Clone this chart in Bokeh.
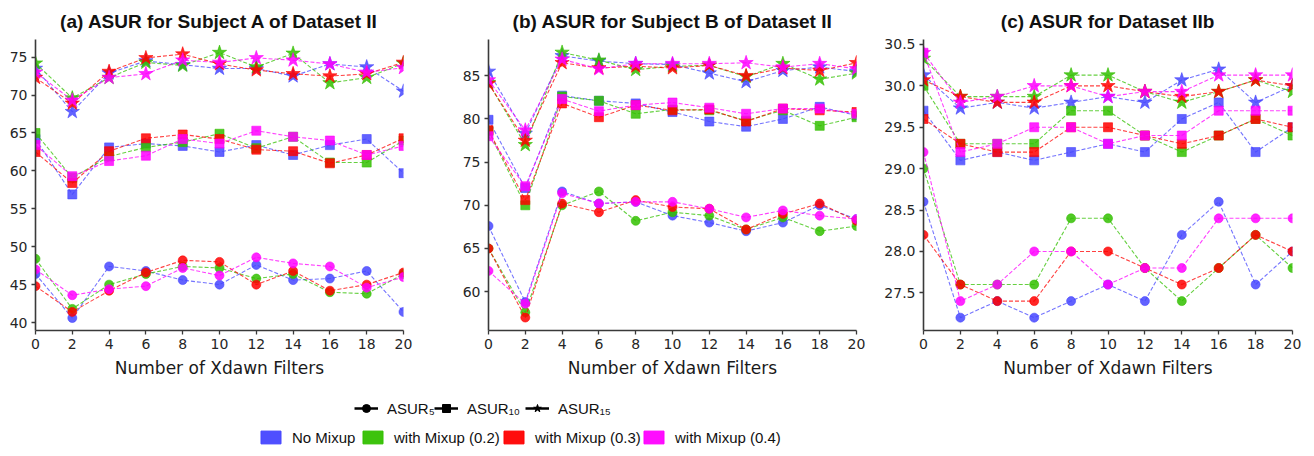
from bokeh.plotting import figure
from bokeh.models import Range1d, FixedTicker, Legend, LegendItem, NumeralTickFormatter
from bokeh.layouts import column, row
from bokeh.embed import file_html
from bokeh.resources import INLINE

# ---------------- data ----------------
x_filters = [0, 2, 4, 6, 8, 10, 12, 14, 16, 18, 20]
mixup_labels = ["No Mixup", "with Mixup (0.2)", "with Mixup (0.3)", "with Mixup (0.4)"]
metric_labels = ["ASUR\u2085", "ASUR\u2081\u2080", "ASUR\u2081\u2085"]
x_ticks = [0, 2, 4, 6, 8, 10, 12, 14, 16, 18, 20]

# (a) Subject A of Dataset II
a5_none = [46.4, 40.6, 47.4, 46.8, 45.6, 45.0, 47.6, 45.6, 45.8, 46.8, 41.4]
a5_m02 = [48.4, 41.8, 45.0, 46.4, 47.4, 47.2, 45.8, 46.4, 44.0, 43.8, 46.4]
a5_m03 = [44.8, 41.4, 44.2, 46.6, 48.2, 48.0, 45.0, 46.8, 44.2, 45.0, 46.6]
a5_m04 = [47.0, 43.6, 44.4, 44.8, 47.2, 46.2, 48.6, 47.8, 47.4, 44.6, 46.0]
a10_none = [64.2, 56.9, 63.1, 63.6, 63.3, 62.5, 63.4, 62.1, 63.4, 64.2, 59.7]
a10_m02 = [65.0, 59.1, 61.9, 63.1, 63.8, 64.9, 63.0, 64.5, 61.1, 61.1, 64.0]
a10_m03 = [62.5, 58.4, 62.6, 64.3, 64.8, 64.2, 62.8, 62.6, 61.0, 62.1, 64.3]
a10_m04 = [63.4, 59.3, 61.3, 62.0, 64.2, 63.6, 65.3, 64.5, 64.0, 62.1, 63.3]
a15_none = [73.5, 67.8, 72.9, 74.5, 74.0, 73.5, 73.5, 72.5, 74.1, 73.7, 70.5]
a15_m02 = [74.2, 69.6, 72.3, 74.3, 73.9, 75.6, 73.7, 75.5, 71.6, 72.3, 74.2]
a15_m03 = [72.3, 68.9, 73.1, 74.9, 75.4, 74.1, 73.3, 72.8, 72.5, 72.8, 74.3]
a15_m04 = [73.0, 69.3, 72.3, 72.8, 74.6, 74.3, 74.9, 74.6, 74.1, 73.0, 73.6]
a_yticks = [40, 45, 50, 55, 60, 65, 70, 75]

# (b) Subject B of Dataset II
b5_none = [67.6, 58.8, 71.6, 70.2, 70.4, 68.8, 68.0, 67.0, 68.0, 70.0, 68.4]
b5_m02 = [65.0, 57.6, 70.0, 71.6, 68.2, 69.2, 68.8, 67.2, 68.6, 67.0, 67.6]
b5_m03 = [65.0, 57.0, 70.2, 69.2, 70.6, 69.8, 69.6, 67.2, 69.0, 70.2, 68.2]
b5_m04 = [62.4, 58.6, 71.4, 70.2, 70.4, 70.4, 69.6, 68.6, 69.4, 68.8, 68.4]
b10_none = [79.9, 72.0, 82.7, 82.1, 81.8, 80.8, 79.7, 79.1, 80.0, 81.4, 80.4]
b10_m02 = [78.6, 70.0, 82.6, 82.1, 80.6, 81.1, 81.0, 79.8, 81.0, 79.2, 80.2]
b10_m03 = [78.7, 70.6, 81.8, 80.2, 81.6, 81.0, 81.1, 79.7, 81.2, 81.0, 80.8]
b10_m04 = [78.0, 72.2, 82.3, 80.9, 81.6, 81.9, 81.3, 80.6, 81.2, 81.2, 80.6]
b15_none = [85.5, 78.3, 87.3, 86.7, 86.4, 86.3, 85.3, 84.3, 85.6, 86.0, 85.5]
b15_m02 = [84.2, 77.0, 87.7, 86.8, 85.7, 86.1, 86.2, 84.9, 86.4, 84.6, 85.3]
b15_m03 = [84.1, 77.5, 86.5, 85.9, 86.1, 85.9, 86.2, 85.0, 85.9, 85.6, 86.5]
b15_m04 = [84.5, 78.7, 86.9, 85.8, 86.4, 86.4, 86.4, 86.5, 86.0, 86.4, 85.8]
b_yticks = [60, 65, 70, 75, 80, 85]

# (c) Dataset IIb
c5_none = [28.6, 27.2, 27.4, 27.2, 27.4, 27.6, 27.4, 28.2, 28.6, 27.6, 28.0]
c5_m02 = [29.0, 27.6, 27.6, 27.6, 28.4, 28.4, 27.8, 27.4, 27.8, 28.2, 27.8]
c5_m03 = [28.2, 27.6, 27.4, 27.4, 28.0, 28.0, 27.8, 27.6, 27.8, 28.2, 28.0]
c5_m04 = [29.2, 27.4, 27.6, 28.0, 28.0, 27.6, 27.8, 27.8, 28.4, 28.4, 28.4]
c10_none = [29.7, 29.1, 29.2, 29.1, 29.2, 29.3, 29.2, 29.6, 29.8, 29.2, 29.5]
c10_m02 = [30.0, 29.3, 29.3, 29.3, 29.7, 29.7, 29.4, 29.2, 29.4, 29.6, 29.4]
c10_m03 = [29.6, 29.3, 29.2, 29.2, 29.5, 29.5, 29.4, 29.3, 29.4, 29.6, 29.5]
c10_m04 = [30.4, 29.2, 29.3, 29.5, 29.5, 29.3, 29.4, 29.4, 29.7, 29.7, 29.7]
c15_none = [30.13, 29.73, 29.8, 29.73, 29.8, 29.87, 29.8, 30.07, 30.2, 29.8, 30.0]
c15_m02 = [30.33, 29.87, 29.87, 29.87, 30.13, 30.13, 29.93, 29.8, 29.93, 30.07, 29.93]
c15_m03 = [30.07, 29.87, 29.8, 29.8, 30.0, 30.0, 29.93, 29.87, 29.93, 30.07, 30.0]
c15_m04 = [30.4, 29.8, 29.87, 30.0, 30.0, 29.87, 29.93, 29.93, 30.13, 30.13, 30.13]
c_yticks = [27.5, 28.0, 28.5, 29.0, 29.5, 30.0, 30.5]

# ---------------- style ----------------
COLORS = ["#4646ff", "#33c000", "#ff0000", "#ff00ff"]
MARKERS = ["circle", "square", "star"]
MSIZES = [9, 9, 15]
AXIS_COLOR = "#3a3a3a"
TICK_FONT = "DejaVu Sans"
LEGEND_FONT = "Liberation Sans"


def make_panel(title, s5, s10, s15, yr, yticks, fmt, width, left, right):
    p = figure(width=width, height=390, x_range=Range1d(0, 20), y_range=Range1d(*yr),
               output_backend="svg", toolbar_location=None,
               min_border_left=left, min_border_right=right,
               min_border_top=38, min_border_bottom=60)
    p.outline_line_color = None
    p.grid.visible = False
    p.background_fill_color = "white"
    p.border_fill_color = "white"
    p.title.text = title
    p.title.align = "center"
    p.title.text_font = "Liberation Sans"
    p.title.text_font_style = "bold"
    p.title.text_font_size = "19px"
    p.title.text_color = "#111111"
    p.title.standoff = 16
    for ax in (p.xaxis[0], p.yaxis[0]):
        ax.axis_line_color = AXIS_COLOR
        ax.axis_line_width = 1.6
        ax.major_tick_line_color = AXIS_COLOR
        ax.major_tick_line_width = 1.3
        ax.major_tick_out = 4
        ax.major_tick_in = 0
        ax.minor_tick_line_color = None
        ax.major_label_text_font = TICK_FONT
        ax.major_label_text_font_size = "14px"
        ax.major_label_text_color = "#262626"
        ax.major_label_standoff = 4
    p.xaxis.ticker = FixedTicker(ticks=x_ticks)
    p.yaxis.ticker = FixedTicker(ticks=yticks)
    if fmt:
        p.yaxis.formatter = NumeralTickFormatter(format=fmt)
    p.xaxis.axis_label = "Number of Xdawn Filters"
    p.xaxis.axis_label_text_font = TICK_FONT
    p.xaxis.axis_label_text_font_style = "normal"
    p.xaxis.axis_label_text_font_size = "17px"
    p.xaxis.axis_label_text_color = "#1a1a1a"
    p.xaxis.axis_label_standoff = 6

    for ci, color in enumerate(COLORS):
        for mi, series in enumerate((s5, s10, s15)):
            ys = series[ci]
            p.line(x_filters, ys, line_color=color, line_width=1.1,
                   line_dash="4 2", line_alpha=0.75)
            p.scatter(x_filters, ys, marker=MARKERS[mi], size=MSIZES[mi],
                      fill_color=color, line_color=color, fill_alpha=0.85,
                      line_alpha=0.6, line_width=1)
    return p


pa = make_panel("(a) ASUR for Subject A of Dataset II",
                [a5_none, a5_m02, a5_m03, a5_m04],
                [a10_none, a10_m02, a10_m03, a10_m04],
                [a15_none, a15_m02, a15_m03, a15_m04],
                (38.95, 77.33), a_yticks, None, 440, 35, 37)
pb = make_panel("(b) ASUR for Subject B of Dataset II",
                [b5_none, b5_m02, b5_m03, b5_m04],
                [b10_none, b10_m02, b10_m03, b10_m04],
                [b15_none, b15_m02, b15_m03, b15_m04],
                (55.5, 89.2), b_yticks, None, 440, 48, 24)
pc = make_panel("(c) ASUR for Dataset IIb",
                [c5_none, c5_m02, c5_m03, c5_m04],
                [c10_none, c10_m02, c10_m03, c10_m04],
                [c15_none, c15_m02, c15_m03, c15_m04],
                (27.045, 30.56), c_yticks, "0.0", 434, 43, 22)

# ---------------- legend strip ----------------
lg = figure(width=1314, height=66, output_backend="svg", toolbar_location=None,
            x_range=Range1d(0, 1), y_range=Range1d(0, 1),
            x_axis_location=None, y_axis_location=None,
            min_border_left=0, min_border_right=0, min_border_top=0, min_border_bottom=0)
lg.outline_line_color = None
lg.grid.visible = False

# off-range dummy points so that legend glyphs get drawn
OFF = [-10.0]
metric_x = [354, 434, 525]
for mi, lab in enumerate(metric_labels):
    rl = lg.line(x=OFF, y=OFF, line_color="black", line_width=2.5)
    rs = lg.scatter(x=OFF, y=OFF, marker=MARKERS[mi], size=[10, 10, 17][mi],
                    fill_color="black", line_color="black")
    leg = Legend(items=[LegendItem(label=lab, renderers=[rl, rs])],
                 location=(metric_x[mi], 38), orientation="horizontal",
                 glyph_width=24, glyph_height=20, label_height=20,
                 label_standoff=9, padding=0, margin=0,
                 border_line_color=None, background_fill_alpha=0,
                 label_text_font=LEGEND_FONT, label_text_font_size="15px",
                 label_text_color="#111111")
    lg.add_layout(leg)

color_x = [258, 360, 501, 641]
for ci, lab in enumerate(mixup_labels):
    rq = lg.quad(left=OFF, right=OFF, top=OFF, bottom=OFF, fill_color=COLORS[ci],
                 line_color=COLORS[ci], fill_alpha=0.95)
    leg = Legend(items=[LegendItem(label=lab, renderers=[rq])],
                 location=(color_x[ci], 9), orientation="horizontal",
                 glyph_width=25, glyph_height=16, label_height=20,
                 label_standoff=9, padding=0, margin=0,
                 border_line_color=None, background_fill_alpha=0,
                 label_text_font=LEGEND_FONT, label_text_font_size="15px",
                 label_text_color="#111111")
    lg.add_layout(leg)

layout = column(row(pa, pb, pc), lg)
open("out.html", "w").write(file_html(layout, INLINE))
